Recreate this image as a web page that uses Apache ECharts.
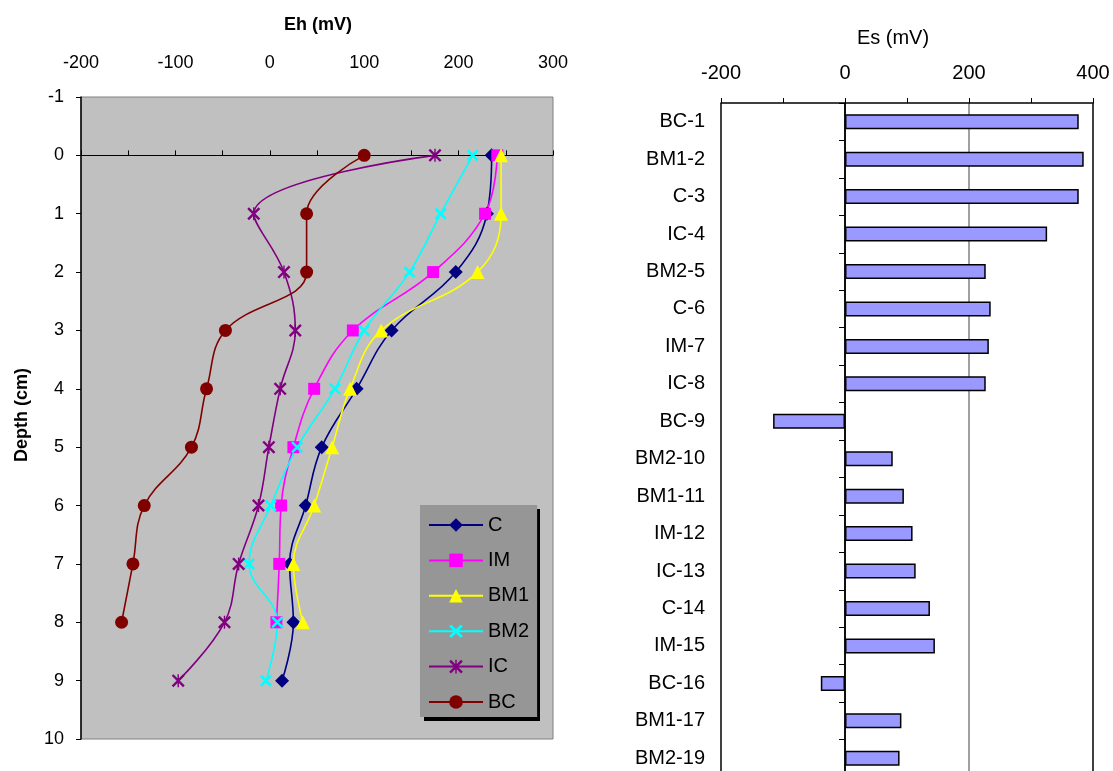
<!DOCTYPE html>
<html>
<head>
<meta charset="utf-8">
<script src="https://cdn.jsdelivr.net/npm/echarts@6/dist/echarts.min.js"></script>
<style>
  html, body { margin: 0; padding: 0; background: #fff; }
  #chart { width: 1113px; height: 771px; }
</style>
</head>
<body>
<div id="chart"></div>
<script>
// Redox profiles (Eh vs depth) for each core
const depths = [0, 1, 2, 3, 4, 5, 6, 7, 8, 9];
const ehC   = [235, 230, 197, 129, 92, 55, 38, 21, 25, 13];
const ehIM  = [241, 228, 173, 88, 47, 25, 12, 10, 7];
const ehBM1 = [245, 245, 220, 118, 85, 66, 47, 25, 35];
const ehBM2 = [215, 181, 148, 100, 69, 29, 1, -22, 8, -4];
const ehIC  = [175, -17, 15, 27, 11, -1, -12, -33, -48, -97];
const ehBC  = [100, 39, 39, -47, -67, -83, -133, -145, -157];

// Es per sample
const samples = ['BC-1', 'BM1-2', 'C-3', 'IC-4', 'BM2-5', 'C-6', 'IM-7', 'IC-8', 'BC-9',
  'BM2-10', 'BM1-11', 'IM-12', 'IC-13', 'C-14', 'IM-15', 'BC-16', 'BM1-17', 'BM2-19'];
const esValues = [377, 385, 377, 326, 227, 235, 232, 227, -116,
  77, 95, 109, 114, 137, 145, -39, 91, 88];

const FONT = '"Liberation Sans", Arial, sans-serif';

// Cross and asterisk markers built as filled outlines
const X_MARK = 'path://M0,3L3,0L20,17L17,20Z M17,0L20,3L3,20L0,17Z';
const STAR_MARK = 'path://M0,2.6L2.6,0L20,17.4L17.4,20Z M17.4,0L20,2.6L2.6,20L0,17.4Z M8.9,0L11.1,0L11.1,20L8.9,20Z';

function profile(values) {
  return values.map((v, i) => [v, depths[i]]);
}

const profiles = [
  { name: 'C',   values: ehC,   color: '#000080', symbol: 'diamond',  size: 14 },
  { name: 'IM',  values: ehIM,  color: '#FF00FF', symbol: 'rect',     size: 12 },
  { name: 'BM1', values: ehBM1, color: '#FFFF00', symbol: 'triangle', size: 14 },
  { name: 'BM2', values: ehBM2, color: '#00FFFF', symbol: X_MARK,     size: 12 },
  { name: 'IC',  values: ehIC,  color: '#800080', symbol: STAR_MARK,  size: 13 },
  { name: 'BC',  values: ehBC,  color: '#800000', symbol: 'circle',   size: 13 }
];

const chart = echarts.init(document.getElementById('chart'), null, { renderer: 'canvas' });

const lineSeries = profiles.map(p => ({
  name: p.name,
  type: 'line',
  xAxisIndex: 0,
  yAxisIndex: 0,
  data: profile(p.values),
  smooth: 0.4,
  symbol: p.symbol,
  symbolSize: p.size,
  showAllSymbol: true,
  lineStyle: { color: p.color, width: 1.6 },
  itemStyle: { color: p.color },
  emphasis: { disabled: true },
  animation: false
}));

const option = {
  animation: false,
  textStyle: { fontFamily: FONT },
  grid: [
    { left: 81, top: 97, width: 472, height: 642, show: true, outerBoundsMode: 'none',
      backgroundColor: '#C0C0C0', borderColor: '#808080', borderWidth: 1 },
    { left: 721, top: 103, width: 372, height: 674, outerBoundsMode: 'none' }
  ],
  xAxis: [
    {
      gridIndex: 0, type: 'value', position: 'top',
      min: -200, max: 300, interval: 100,
      axisLine: { show: true, onZero: true, lineStyle: { color: '#000', width: 1 } },
      axisTick: { show: true, length: 5, lineStyle: { color: '#000' } },
      minorTick: { show: true, splitNumber: 2, length: 5, lineStyle: { color: '#000' } },
      axisLabel: { margin: 25, fontSize: 18, color: '#000', fontFamily: FONT },
      splitLine: { show: false }
    },
    {
      gridIndex: 1, type: 'value', position: 'top',
      min: -200, max: 400, interval: 200,
      axisLine: { show: true, onZero: false, lineStyle: { color: '#000', width: 1.5 } },
      axisTick: { show: true, length: 5, lineStyle: { color: '#000' } },
      minorTick: { show: true, splitNumber: 2, length: 5, lineStyle: { color: '#000' } },
      axisLabel: { margin: 20, fontSize: 20, color: '#000', fontFamily: FONT },
      splitLine: { show: true, lineStyle: { color: ['#000', '#000', '#808080', '#000'], width: 1.5 } }
    }
  ],
  yAxis: [
    {
      gridIndex: 0, type: 'value', inverse: true,
      min: -1, max: 10, interval: 1,
      axisLine: { show: true, onZero: false, lineStyle: { color: '#000', width: 1.5 } },
      axisTick: { show: true, length: 5, lineStyle: { color: '#000' } },
      axisLabel: { margin: 17, fontSize: 18, color: '#000', fontFamily: FONT },
      splitLine: { show: false }
    },
    {
      gridIndex: 1, type: 'category', inverse: true, data: samples,
      axisLine: { show: true, onZero: true, lineStyle: { color: '#000', width: 1.5 } },
      axisTick: { show: true, length: 6, lineStyle: { color: '#000' } },
      axisLabel: { interval: 0, margin: 16, fontSize: 20, color: '#000', fontFamily: FONT },
      splitLine: { show: false }
    }
  ],
  legend: {
    data: profiles.map(p => p.name),
    orient: 'vertical',
    left: 420, top: 505,
    itemWidth: 54, itemHeight: 17, itemGap: 15.4,
    padding: [10, 8, 5, 8],
    backgroundColor: '#969696',
    borderWidth: 0,
    z: 10,
    selectedMode: false,
    textStyle: { fontSize: 20, color: '#000', fontFamily: FONT }
  },
  graphic: [
    { type: 'rect', z: 5, shape: { x: 424, y: 509, width: 116, height: 212 }, style: { fill: '#000' } },
    { type: 'text', x: 318, y: 25, style: { text: 'Eh (mV)', font: 'bold 18px ' + FONT, fill: '#000', align: 'center', verticalAlign: 'middle' } },
    { type: 'text', x: 22, y: 415, rotation: Math.PI / 2, style: { text: 'Depth (cm)', font: 'bold 18px ' + FONT, fill: '#000', align: 'center', verticalAlign: 'middle' } },
    { type: 'text', x: 893, y: 38, style: { text: 'Es (mV)', font: '20px ' + FONT, fill: '#000', align: 'center', verticalAlign: 'middle' } }
  ],
  series: lineSeries.concat([
    {
      name: 'Es',
      type: 'bar',
      xAxisIndex: 1,
      yAxisIndex: 1,
      data: esValues,
      barWidth: 15,
      itemStyle: { color: '#9999FF', borderColor: '#000', borderWidth: 1.5 },
      emphasis: { disabled: true }
    }
  ])
};

chart.setOption(option);
</script>
</body>
</html>
